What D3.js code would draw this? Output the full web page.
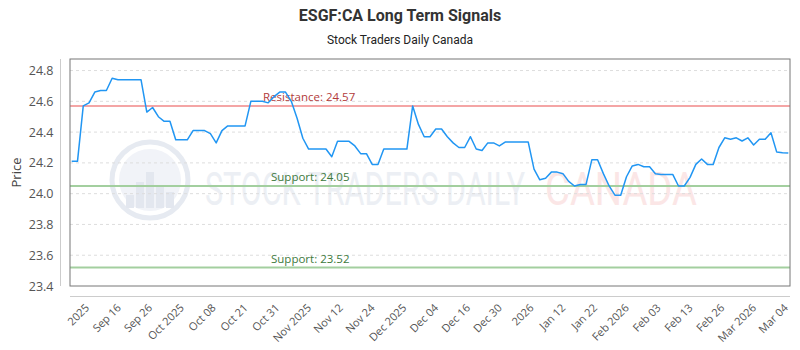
<!DOCTYPE html>
<html>
<head>
<meta charset="utf-8">
<script src="https://cdn.jsdelivr.net/npm/d3@7"></script>
<style>
  html, body { margin: 0; padding: 0; background: #fff; }
  svg { display: block; font-family: "Open Sans", sans-serif; }
</style>
</head>
<body>
<div id="chart"></div>
<script>
// ---- data ----
const prices = [
  24.21, 24.21, 24.57, 24.59, 24.66, 24.67, 24.67, 24.75, 24.74, 24.74,
  24.74, 24.74, 24.74, 24.53, 24.56, 24.50, 24.47, 24.47, 24.35, 24.35,
  24.35, 24.41, 24.41, 24.41, 24.39, 24.33, 24.41, 24.44, 24.44, 24.44,
  24.44, 24.60, 24.60, 24.60, 24.59, 24.63, 24.66, 24.66, 24.60, 24.49,
  24.36, 24.29, 24.29, 24.29, 24.29, 24.24, 24.34, 24.34, 24.34, 24.31,
  24.26, 24.26, 24.19, 24.19, 24.29, 24.29, 24.29, 24.29, 24.29, 24.57,
  24.45, 24.37, 24.37, 24.42, 24.42, 24.37, 24.33, 24.30, 24.30, 24.37,
  24.29, 24.28, 24.33, 24.33, 24.31, 24.335, 24.335, 24.335, 24.335, 24.335,
  24.16, 24.09, 24.10, 24.14, 24.14, 24.13, 24.08, 24.05, 24.06, 24.06,
  24.22, 24.22, 24.13, 24.05, 23.99, 23.99, 24.11, 24.18, 24.19, 24.175,
  24.175, 24.13, 24.125, 24.125, 24.125, 24.05, 24.05, 24.106, 24.19, 24.225,
  24.19, 24.19, 24.30, 24.363, 24.353, 24.363, 24.342, 24.363, 24.316, 24.353,
  24.353, 24.396, 24.27, 24.266, 24.264
];
const tickLabels = ["2025","Sep 16","Sep 26","Oct 2025","Oct 08","Oct 21","Oct 31","Nov 2025",
  "Nov 12","Nov 24","Dec 2025","Dec 04","Dec 16","Dec 30","2026","Jan 12","Jan 22",
  "Feb 2026","Feb 03","Feb 13","Feb 26","Mar 2026","Mar 04"];
const tickIndex = [3.6, 9.1, 14.5, 20.0, 25.5, 31.0, 36.5, 42.0, 47.5, 53.0, 58.5, 64.0,
  69.5, 75.0, 80.5, 86.0, 91.5, 97.0, 102.5, 108.0, 113.5, 119.0, 124.5];
const yTicks = [23.4, 23.6, 23.8, 24.0, 24.2, 24.4, 24.6, 24.8];
const levels = [
  { name: "Resistance", value: 24.57, kind: "res" },
  { name: "Support", value: 24.05, kind: "sup" },
  { name: "Support", value: 23.52, kind: "sup" }
];
const titleText = "ESGF:CA Long Term Signals";
const subtitleText = "Stock Traders Daily Canada";

// ---- layout ----
const W = 800, H = 350;
const plot = { left: 70, right: 790, top: 59, bottom: 286 };

const svg = d3.select("#chart").append("svg").attr("width", W).attr("height", H);

const x = d3.scaleLinear().domain([0, prices.length - 1]).range([plot.left + 1.7, plot.right - 1.7]);
const y = d3.scaleLinear().domain([23.4, 24.875]).range([plot.bottom, plot.top]);

// titles
svg.append("text").attr("x", 400).attr("y", 21).attr("text-anchor", "middle")
  .attr("font-family", "Roboto, sans-serif").attr("font-weight", "bold").attr("font-size", 16)
  .attr("fill", "#333").text(titleText);
svg.append("text").attr("x", 400).attr("y", 44).attr("text-anchor", "middle")
  .attr("font-family", "Roboto, sans-serif").attr("font-size", 12)
  .attr("fill", "#222").text(subtitleText);

// watermark
const wm = svg.append("g").attr("opacity", 1);
wm.append("circle").attr("cx", 150).attr("cy", 180).attr("r", 38)
  .attr("fill", "none").attr("stroke", "#e6eaf1").attr("stroke-width", 5);
wm.append("circle").attr("cx", 150).attr("cy", 180).attr("r", 31)
  .attr("fill", "#f1f3f8");
[[130, 195], [140, 182], [150, 172], [160, 186], [170, 192]].forEach(([bx, by]) => {
  wm.append("rect").attr("x", bx - 4).attr("y", by).attr("width", 8).attr("height", 208 - by)
    .attr("fill", "#e3e7ef");
});
wm.append("text").attr("x", 205).attr("y", 205).attr("font-family", "Roboto, sans-serif")
  .attr("font-size", 46).attr("textLength", 320).attr("lengthAdjust", "spacingAndGlyphs")
  .attr("fill", "#eceff4").text("STOCK TRADERS DAILY");
wm.append("text").attr("x", 545).attr("y", 205).attr("font-family", "Roboto, sans-serif")
  .attr("font-size", 46).attr("textLength", 152).attr("lengthAdjust", "spacingAndGlyphs")
  .attr("fill", "#fbe6e6").text("CANADA");

// grid
svg.append("g").selectAll("line").data(yTicks.filter(v => v > 23.4)).join("line")
  .attr("x1", plot.left).attr("x2", plot.right)
  .attr("y1", d => y(d)).attr("y2", d => y(d))
  .attr("stroke", "#dddddd").attr("stroke-dasharray", "3,3").attr("stroke-width", 1);

// level lines
const lv = svg.append("g");
levels.forEach(l => {
  const col = l.kind === "res" ? "#f4a5a5" : "#a3cf9f";
  lv.append("line").attr("x1", plot.left).attr("x2", plot.right)
    .attr("y1", y(l.value)).attr("y2", y(l.value))
    .attr("stroke", col).attr("stroke-width", 2);
});
levels.forEach((l, i) => {
  const col = l.kind === "res" ? "#b23b3b" : "#3d7a3d";
  lv.append("text").attr("x", l.kind === "res" ? 263 : 271).attr("y", y(l.value) - 5)
    .attr("font-size", 11.5).attr("fill", col)
    .text(`${l.name}: ${l.value.toFixed(2)}`);
});

// price line
svg.append("path").datum(prices)
  .attr("fill", "none").attr("stroke", "#2196f3").attr("stroke-width", 1.5)
  .attr("stroke-linejoin", "round")
  .attr("d", d3.line().x((d, i) => x(i)).y(d => y(d)));

// plot frame
svg.append("rect").attr("x", plot.left).attr("y", plot.top)
  .attr("width", plot.right - plot.left).attr("height", plot.bottom - plot.top)
  .attr("fill", "none").attr("stroke", "#777").attr("stroke-width", 1);

// y axis (offset)
const yAxis = svg.append("g").attr("transform", `translate(${60.5},0)`)
  .call(d3.axisLeft(y).tickValues(yTicks).tickFormat(d3.format(".1f")).tickSize(0).tickPadding(7));
yAxis.select(".domain").attr("stroke", "#cccccc").attr("d", `M0,${plot.top}V${plot.bottom}`);
yAxis.selectAll("text").attr("font-family", "Open Sans, sans-serif").attr("font-size", 12.5).attr("fill", "#555");

svg.append("text").attr("transform", `translate(21,${(plot.top + plot.bottom) / 2}) rotate(-90)`)
  .attr("text-anchor", "middle").attr("font-size", 13).attr("fill", "#444").text("Price");

// x axis (offset)
const xAxis = svg.append("g").attr("transform", `translate(0,${296.5})`)
  .call(d3.axisBottom(x).tickValues(tickIndex).tickFormat((d, i) => tickLabels[i]).tickSize(0));
xAxis.select(".domain").attr("stroke", "#cccccc").attr("d", `M${plot.left},0H${plot.right}`);
xAxis.selectAll("text")
  .attr("font-family", "Open Sans, sans-serif").attr("font-size", 11).attr("fill", "#555")
  .attr("text-anchor", "end").attr("dy", null).attr("y", 0)
  .attr("transform", "translate(-3,12) rotate(-45)");
</script>
</body>
</html>
